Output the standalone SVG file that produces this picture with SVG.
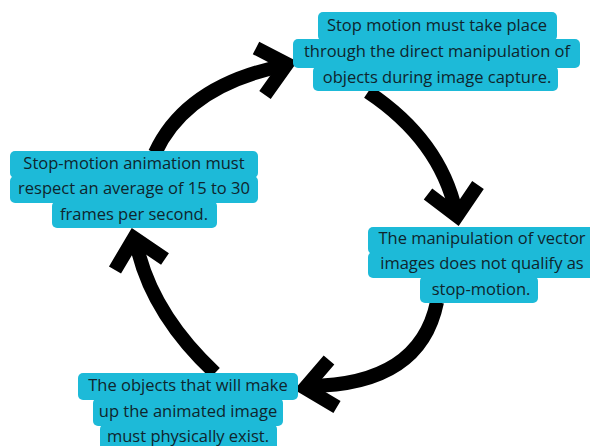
<svg xmlns="http://www.w3.org/2000/svg" width="590" height="446" viewBox="0 0 590 446">
<style>
.bg{fill:#1DBAD8}
.t{font-family:"Open Sans","Liberation Sans",sans-serif;font-size:16.5px;fill:#0f252d;text-anchor:middle}
.arc{fill:none;stroke:#000;stroke-width:14}
.head{fill:none;stroke:#000;stroke-width:14;stroke-linejoin:miter;stroke-miterlimit:10}
</style>
<rect width="590" height="446" fill="#fff"/>
<g id="connectors">
<path class="arc" d="M155,153 Q186,86 282,66"/>
<polyline class="head" points="256,48 287,64 265,95"/>
<path class="arc" d="M368,92 Q440,140 456,212"/>
<polyline class="head" points="428,194 457,216 478,185"/>
<path class="arc" d="M437,302 Q420,385 309,386"/>
<polyline class="head" points="329,360 305,388 337,407"/>
<path class="arc" d="M215,373 Q150,312 136,242"/>
<polyline class="head" points="115,270 134,238 165,259"/>
</g>
<g id="node-top">
<rect class="bg" x="318" y="12" width="239" height="29" rx="5"/>
<rect class="bg" x="293" y="39" width="287" height="29" rx="5"/>
<rect class="bg" x="313" y="66" width="245" height="25" rx="5"/>
<text class="t" x="437" y="31">Stop motion must take place</text>
<text class="t" x="437" y="57">through the direct manipulation of</text>
<text class="t" x="437" y="83">objects during image capture.</text>
</g>
<g id="node-left">
<rect class="bg" x="10" y="151" width="248" height="27" rx="5"/>
<rect class="bg" x="10" y="176" width="248" height="27" rx="5"/>
<rect class="bg" x="52" y="201" width="165" height="27" rx="5"/>
<text class="t" x="134" y="169">Stop-motion animation must</text>
<text class="t" x="134" y="194">respect an average of 15 to 30</text>
<text class="t" x="134" y="220">frames per second.</text>
</g>
<g id="node-right">
<rect class="bg" x="368" y="227" width="228" height="27" rx="5"/>
<rect class="bg" x="368" y="252" width="228" height="26" rx="5"/>
<rect class="bg" x="420" y="276" width="118" height="27" rx="5"/>
<text class="t" x="482" y="244">The manipulation of vector</text>
<text class="t" x="482" y="269">images does not qualify as</text>
<text class="t" x="481" y="295">stop-motion.</text>
</g>
<g id="node-bottom">
<rect class="bg" x="78" y="373" width="220" height="27" rx="5"/>
<rect class="bg" x="93" y="398" width="190" height="28" rx="5"/>
<rect class="bg" x="100" y="424" width="177" height="30" rx="5"/>
<text class="t" x="188" y="391">The objects that will make</text>
<text class="t" x="188" y="417">up the animated image</text>
<text class="t" x="188" y="442">must physically exist.</text>
</g>
</svg>
